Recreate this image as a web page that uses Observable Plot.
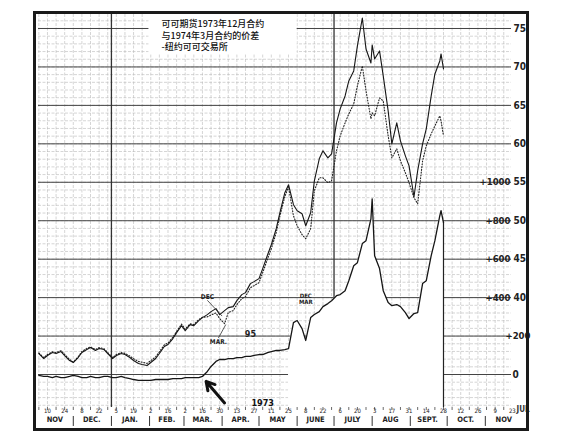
<!DOCTYPE html>
<html><head><meta charset="utf-8">
<script src="https://cdn.jsdelivr.net/npm/d3@7"></script>
<script src="https://cdn.jsdelivr.net/npm/@observablehq/plot@0.6"></script>
<style>
html,body{margin:0;padding:0;background:#fff;}
#chart{width:563px;height:446px;}
svg{overflow:visible;}
</style></head><body><div id="chart"></div>
<script>
// ---- data ----
const dates = ["1972-11-03","1972-11-07","1972-11-10","1972-11-14","1972-11-17","1972-11-21","1972-11-24","1972-11-28","1972-12-01","1972-12-05",
"1972-12-08","1972-12-12","1972-12-15","1972-12-19","1972-12-22","1972-12-26","1972-12-29","1973-01-02","1973-01-05","1973-01-09",
"1973-01-12","1973-01-16","1973-01-19","1973-01-23","1973-01-26","1973-01-30","1973-02-02","1973-02-06","1973-02-09","1973-02-13",
"1973-02-16","1973-02-20","1973-02-23","1973-02-27","1973-03-02","1973-03-06","1973-03-09","1973-03-13","1973-03-16","1973-03-20",
"1973-03-23","1973-03-27","1973-03-30","1973-04-03","1973-04-06","1973-04-10","1973-04-13","1973-04-17","1973-04-20","1973-04-24",
"1973-04-27","1973-05-01","1973-05-04","1973-05-08","1973-05-11","1973-05-15","1973-05-18","1973-05-22","1973-05-25","1973-05-29",
"1973-06-01","1973-06-05","1973-06-08","1973-06-12","1973-06-15","1973-06-19","1973-06-22","1973-06-26","1973-06-29","1973-07-03",
"1973-07-06","1973-07-10","1973-07-13","1973-07-17","1973-07-20","1973-07-24","1973-07-27","1973-07-31","1973-08-01","1973-08-03",
"1973-08-07","1973-08-10","1973-08-14","1973-08-17","1973-08-21","1973-08-24","1973-08-28","1973-08-31","1973-09-04","1973-09-07",
"1973-09-11","1973-09-14","1973-09-18","1973-09-21","1973-09-25","1973-09-26","1973-09-28"];
// Dec 1973 contract (cents/lb), solid
const dec = [32.73,32.08,32.47,32.86,32.73,32.99,32.47,31.82,31.56,32.21,
32.86,33.25,33.51,33.12,33.38,33.25,32.73,32.08,32.47,32.73,
32.60,32.21,31.82,31.43,31.30,31.17,31.56,32.08,32.73,33.64,
33.90,34.68,35.45,36.36,35.71,36.49,36.36,37.01,37.40,37.79,
38.18,38.57,37.79,38.31,38.70,38.83,39.61,40.39,40.65,41.82,
42.08,42.47,43.77,45.58,46.88,48.96,51.04,53.64,54.68,52.08,
51.30,50.91,49.35,51.04,55.19,58.05,59.09,58.18,58.70,62.73,
64.55,66.23,68.18,69.48,72.73,76.36,72.34,70.52,72.86,71.04,
72.08,68.83,64.29,60.00,62.73,60.39,58.44,57.14,53.12,56.50,
60.00,61.95,66.23,69.09,70.78,71.69,69.74];
// Mar 1974 contract (cents/lb), dotted
const mar = [32.80,32.20,32.60,32.95,32.85,33.10,32.60,31.95,31.62,32.30,
33.00,33.40,33.60,33.25,33.50,33.35,32.85,32.20,32.60,32.85,
32.75,32.40,32.05,31.70,31.60,31.45,31.80,32.30,32.95,33.85,
34.10,34.85,35.60,36.55,35.90,36.60,36.50,37.15,37.45,37.50,
37.75,38.00,37.27,36.62,38.05,38.31,39.09,39.87,40.13,41.30,
41.56,41.95,43.25,45.06,46.36,48.44,50.65,53.12,54.42,50.65,
49.35,48.18,47.66,48.96,53.90,55.58,55.58,54.94,55.19,59.09,
61.04,62.73,63.90,65.19,67.53,70.13,66.88,63.25,64.03,63.64,
65.97,65.58,61.04,58.18,59.35,57.79,56.23,54.94,52.99,52.21,
57.79,59.74,61.30,62.34,63.64,62.99,61.04];
// Dec-Mar spread (points), right-hand scale
const spread = [-5,-10,-10,-16,-10,-16,-16,-10,-5,-10,
-16,-16,-10,-16,-16,-10,-10,-16,-16,-10,
-16,-21,-26,-31,-31,-31,-31,-26,-26,-26,
-26,-21,-21,-21,-16,-16,-16,-16,-10,16,
42,68,78,78,83,83,88,88,94,94,
99,104,104,114,119,125,125,130,135,270,
281,239,177,296,312,327,353,369,384,410,
416,436,488,566,582,681,696,810,914,618,
551,436,374,358,364,353,322,291,317,322,
473,488,618,696,826,852,790];

const priceTicks = [40,45,50,55,60,65,70,75];
const spreadTicks = [0,200,400,600,800,1000];
const dayLabelDates = ["1972-11-10","1972-11-24","1972-12-08","1972-12-22","1973-01-05","1973-01-19","1973-02-02","1973-02-16",
"1973-03-02","1973-03-16","1973-03-30","1973-04-13","1973-04-27","1973-05-11","1973-05-25","1973-06-08","1973-06-22",
"1973-07-06","1973-07-20","1973-08-03","1973-08-17","1973-08-31","1973-09-14","1973-09-28","1973-10-12","1973-10-26",
"1973-11-09","1973-11-23"];
const monthNames = ["NOV","DEC.","JAN.","FEB.","MAR.","APR.","MAY","JUNE","JULY","AUG","SEPT.","OCT.","NOV"];
const monthMid = ["1972-11-16","1972-12-16","1973-01-16","1973-02-15","1973-03-16","1973-04-16","1973-05-16","1973-06-16",
"1973-07-16","1973-08-16","1973-09-15","1973-10-16","1973-11-16"];
const titleLines = ["可可期货1973年12月合约","与1974年3月合约的价差","-纽约可可交易所"];

// ---- helpers ----
const D = s => new Date(s);
const toPrice = s => 30 + s / 40;       // spread scale sits on the price scale: 0 -> 30, +1000 -> 55
const yMin = 25.71, yMax = 76.82;
const px = 1 / 7.7;                       // price units per pixel
const rows = dates.map((d, i) => ({date: D(d), dec: dec[i], mar: mar[i], spr: toPrice(spread[i])}));
const whiteRows = rows.filter(r => r.date >= D("1973-05-25"));
const last = rows[rows.length - 1];
const fridays = d3.utcFriday.range(D("1972-11-03"), D("1973-11-23"));
const monthStarts = d3.utcMonth.range(D("1972-12-01"), D("1973-11-02"));
const cond = "'Liberation Sans Narrow','DejaVu Sans Condensed','Arial Narrow',sans-serif";

// annotations (data space)
const titleBox = {x1: D("1973-01-31T12:00Z"), x2: D("1973-06-01"), y1: 71.6, y2: yMax};
const arrowNote = {x1: D("1973-04-03"), y1: 26.3, x2: D("1973-03-19"), y2: 29.1};
const decLabel = {date: D("1973-03-20"), v: 40.15, x2: D("1973-04-01"), v2: 37.6};
const marLabel = {date: D("1973-03-29"), v: 34.25, x2: D("1973-04-04"), v2: 36.5};

const chart = Plot.plot({
  width: 563, height: 446,
  marginLeft: 38, marginRight: 52, marginTop: 14, marginBottom: 39,
  x: {type: "utc", domain: [D("1972-11-02T17:00Z"), D("1973-11-22T07:00Z")], axis: null},
  y: {domain: [yMin, yMax], axis: null},
  style: {background: "#fff"},
  marks: [
    // grid
    Plot.ruleY(d3.range(26, 77), {stroke: "#b8b8b8", strokeWidth: 0.6, strokeDasharray: "3,1.5"}),
    Plot.ruleX(fridays, {stroke: "#b8b8b8", strokeWidth: 0.6, strokeDasharray: "3,1.5"}),
    Plot.ruleY(d3.range(30, 76, 5), {stroke: "#444", strokeWidth: 1}),
    Plot.ruleX([D("1973-01-01"), D("1973-07-01")], {stroke: "#333", strokeWidth: 1.3}),
    // erased box behind title
    Plot.rect([titleBox], {x1: "x1", x2: "x2", y1: "y1", y2: "y2", fill: "#fff"}),
    Plot.text([titleLines.join("\n")], {frameAnchor: "top-left", dx: 123, dy: 4, lineAnchor: "top", textAnchor: "start",
      lineHeight: 1.3, fontSize: 9, fill: "#111", fontFamily: "'Noto Sans CJK SC',sans-serif", fontWeight: 500}),
    // white area under the spread line
    Plot.areaY(whiteRows, {x: "date", y1: yMin, y2: "spr", fill: "#fff"}),
    Plot.ruleX([last], {x: "date", y1: "spr", y2: yMin, stroke: "#222", strokeWidth: 1.2}),
    // series
    Plot.line(rows, {x: "date", y: "mar", stroke: "#222", strokeWidth: 1.1, strokeDasharray: "1,1.8"}),
    Plot.line(rows, {x: "date", y: "dec", stroke: "#161616", strokeWidth: 1.1}),
    Plot.line(rows, {x: "date", y: "spr", stroke: "#161616", strokeWidth: 1.3}),
    // right scale labels
    Plot.text(priceTicks, {y: d => d, text: d => String(d), frameAnchor: "right", textAnchor: "start", dx: 2,
      fontSize: 10, fontWeight: "bold", fill: "#222", fontFamily: cond}),
    Plot.text(spreadTicks.filter(s => s >= 400), {y: toPrice, text: d => "+" + d, frameAnchor: "right", textAnchor: "end", dx: -1,
      fontSize: 9.5, fontWeight: "bold", fill: "#222", fontFamily: cond}),
    Plot.text(spreadTicks.filter(s => s === 200), {y: toPrice, text: d => "+" + d, frameAnchor: "right", textAnchor: "start", dx: -6,
      fontSize: 9.5, fontWeight: "bold", fill: "#222", fontFamily: cond}),
    Plot.text(spreadTicks.filter(s => s === 0), {y: toPrice, text: d => String(d), frameAnchor: "right", textAnchor: "start", dx: 1,
      fontSize: 10, fontWeight: "bold", fill: "#222", fontFamily: cond}),
    // annotations
    Plot.link([decLabel], {x1: "date", y1: d => d.v - 0.5, x2: "x2", y2: "v2", stroke: "#333", strokeWidth: 0.8}),
    Plot.link([marLabel], {x1: "date", y1: d => d.v + 0.5, x2: "x2", y2: "v2", stroke: "#333", strokeWidth: 0.8}),
    Plot.text([decLabel], {x: "date", y: "v", text: () => "DEC", fontSize: 6.5, fontWeight: "bold", fill: "#222", fontFamily: cond}),
    Plot.text([marLabel], {x: "date", y: "v", text: () => "MAR.", fontSize: 6.5, fontWeight: "bold", fill: "#222", fontFamily: cond}),
    Plot.text([{date: D("1973-04-24"), v: 35.2}], {x: "date", y: "v", text: () => "95", fontSize: 9, fontWeight: "bold", fill: "#222", fontFamily: cond}),
    Plot.text([{date: D("1973-06-08"), v: 40.25, t: "DEC"}, {date: D("1973-06-08"), v: 39.45, t: "MAR"}],
      {x: "date", y: "v", text: "t", fontSize: 6, fontWeight: "bold", fill: "#222", fontFamily: cond}),
    Plot.arrow([arrowNote], {x1: "x1", y1: "y1", x2: "x2", y2: "y2", stroke: "#111", strokeWidth: 3, headLength: 11}),
    Plot.text([{date: D("1973-05-04"), v: 26.3}], {x: "date", y: "v", text: () => "1973", fontSize: 9, fontWeight: "bold", fill: "#111", fontFamily: cond}),
    // date band
    Plot.ruleX(fridays, {y1: yMin, y2: yMin - 3 * px, stroke: "#444", strokeWidth: 0.8}),
    Plot.ruleX(monthStarts, {y1: yMin - 9 * px, y2: yMin - 19 * px, stroke: "#333", strokeWidth: 1}),
    Plot.text(dayLabelDates, {x: d => D(d), frameAnchor: "bottom", dy: 5, text: d => String(D(d).getUTCDate()),
      fontSize: 6, fill: "#222", fontFamily: cond}),
    Plot.text(monthNames, {x: (d, i) => D(monthMid[i]), frameAnchor: "bottom", dy: 14, text: d => d,
      fontSize: 7.5, fontWeight: "bold", fill: "#222", fontFamily: cond}),
    Plot.text(["JUL"], {frameAnchor: "bottom-right", dx: 5, dy: 4, textAnchor: "start", text: d => d,
      fontSize: 8, fontWeight: "bold", fill: "#333", fontFamily: cond}),
    // outer frame
    Plot.frame({insetLeft: -4, insetRight: -16, insetTop: -2, insetBottom: -22, stroke: "#1a1a1a", strokeWidth: 3})
  ]
});
document.getElementById("chart").appendChild(chart);
</script>
</body></html>
